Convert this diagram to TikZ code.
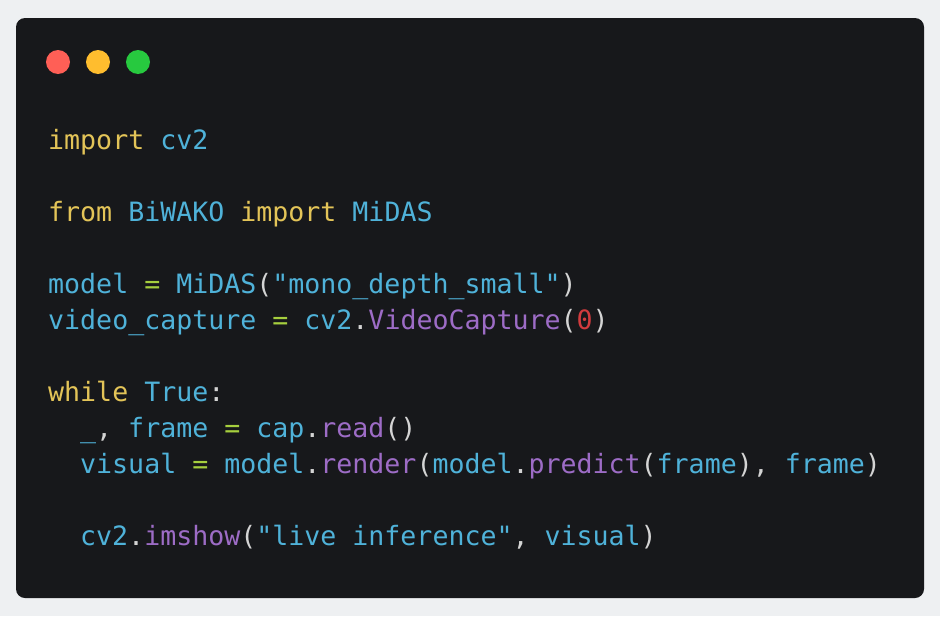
\documentclass[tikz,border=0pt]{standalone}
\usepackage{fontspec}
\setmonofont{DejaVu Sans Mono}
\definecolor{bgout}{HTML}{EEF0F2}
\definecolor{win}{HTML}{17181B}
\definecolor{kw}{HTML}{E3C458}
\definecolor{id}{HTML}{4FB2D9}
\definecolor{op}{HTML}{A6CF3E}
\definecolor{fn}{HTML}{9D6CC6}
\definecolor{num}{HTML}{D23B3E}
\definecolor{pu}{HTML}{D4D4D4}
\definecolor{tlred}{HTML}{FF5F56}
\definecolor{tlyel}{HTML}{FFBD2E}
\definecolor{tlgrn}{HTML}{27C93F}
\newcommand{\K}[1]{\textcolor{kw}{#1}}
\newcommand{\I}[1]{\textcolor{id}{#1}}
\newcommand{\OP}[1]{\textcolor{op}{#1}}
\newcommand{\F}[1]{\textcolor{fn}{#1}}
\newcommand{\N}[1]{\textcolor{num}{#1}}
\newcommand{\PU}[1]{\textcolor{pu}{#1}}
\newcommand{\us}{\char`\_}
\begin{document}
\begin{tikzpicture}[x=1pt,y=-1pt,
  code/.style={anchor=base west,inner sep=0pt,font=\fontsize{26.6}{30}\ttfamily}]
\useasboundingbox (0,0) rectangle (940,616);
\fill[bgout] (0,0) rectangle (940,616);
\fill[win,rounded corners=9pt] (16,18) rectangle (924,598);
\fill[tlred] (58,62) circle (12);
\fill[tlyel] (98,62) circle (12);
\fill[tlgrn] (138,62) circle (12);
\node[code] (l1) at (48,149) {\K{import} \I{cv2}};
\node[code] (l2) at (48,221) {\K{from} \I{BiWAKO} \K{import} \I{MiDAS}};
\node[code] (l3) at (48,293) {\I{model} \OP{=} \I{MiDAS}\PU{(}\I{"mono\us depth\us small"}\PU{)}};
\node[code] (l4) at (48,329) {\I{video\us capture} \OP{=} \I{cv2}\PU{.}\F{VideoCapture}\PU{(}\N{0}\PU{)}};
\node[code] (l5) at (48,401) {\K{while} \I{True}\PU{:}};
\node[code] (l6) at (80,437) {\I{\us}\PU{,} \I{frame} \OP{=} \I{cap}\PU{.}\F{read}\PU{()}};
\node[code] (l7) at (80,473) {\I{visual} \OP{=} \I{model}\PU{.}\F{render}\PU{(}\I{model}\PU{.}\F{predict}\PU{(}\I{frame}\PU{),} \I{frame}\PU{)}};
\node[code] (l8) at (80,545) {\I{cv2}\PU{.}\F{imshow}\PU{(}\I{"live inference"}\PU{,} \I{visual}\PU{)}};
\end{tikzpicture}
\end{document}
